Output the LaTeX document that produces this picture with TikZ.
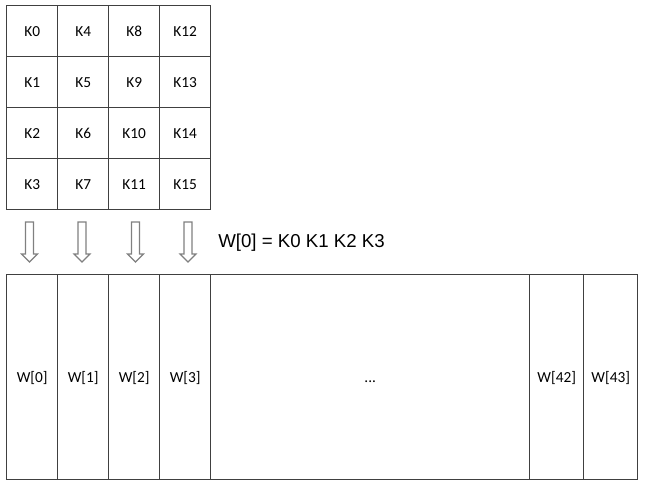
\documentclass[tikz,border=0pt]{standalone}
\usepackage{fontspec}
\setmainfont{Carlito}
\newfontfamily\arialfont{Liberation Sans}
\definecolor{linegray}{HTML}{404040}
\definecolor{arrowgray}{HTML}{808080}
\begin{document}
\begin{tikzpicture}[x=0.75pt,y=-0.75pt,
  cell/.style={draw=linegray,line width=1.1pt,minimum width=38.25pt,minimum height=38.25pt,inner sep=0pt,anchor=north west,text height=7.4pt,text depth=0pt,font=\fontsize{11.5pt}{13pt}\selectfont},
  wbox/.style={draw=linegray,line width=1.1pt,minimum height=153.75pt,inner sep=0pt,anchor=north west,text height=7.4pt,text depth=0pt,font=\fontsize{11.5pt}{13pt}\selectfont},
  blockarrow/.style={draw=arrowgray,line width=0.9pt,fill=white,line join=miter}]
\useasboundingbox (0,0) rectangle (645,486);
% key grid
\foreach \c in {0,1,2,3}{
  \foreach \r in {0,1,2,3}{
    \pgfmathtruncatemacro{\k}{4*\c+\r}
    \node[cell] (k\k) at ({6+51*\c},{5+51*\r}) {K\k};
  }
}
% block arrows
\foreach \cx [count=\i from 0] in {29.5,82,135.5,188}{
  \draw[blockarrow] ({\cx-4},222) -- ({\cx+4},222) -- ({\cx+4},254) -- ({\cx+8},254)
     -- (\cx,262) -- ({\cx-8},254) -- ({\cx-4},254) -- cycle;
}
\node[font=\arialfont\fontsize{14pt}{16pt}\selectfont,anchor=west,inner sep=0pt] (eq) at (218,243) {W[0] = K0 K1 K2 K3};
% word boxes
\node[wbox,minimum width=38.25pt] (w0) at (6,274) {W[0]};
\node[wbox,minimum width=38.25pt] (w1) at (57,274) {W[1]};
\node[wbox,minimum width=38.25pt] (w2) at (108,274) {W[2]};
\node[wbox,minimum width=38.25pt] (w3) at (159,274) {W[3]};
\node[wbox,minimum width=239.25pt] (wd) at (210,274) {...};
\node[wbox,minimum width=40.5pt] (w42) at (529,274) {W[42]};
\node[wbox,minimum width=40.5pt] (w43) at (583,274) {W[43]};
\end{tikzpicture}
\end{document}
